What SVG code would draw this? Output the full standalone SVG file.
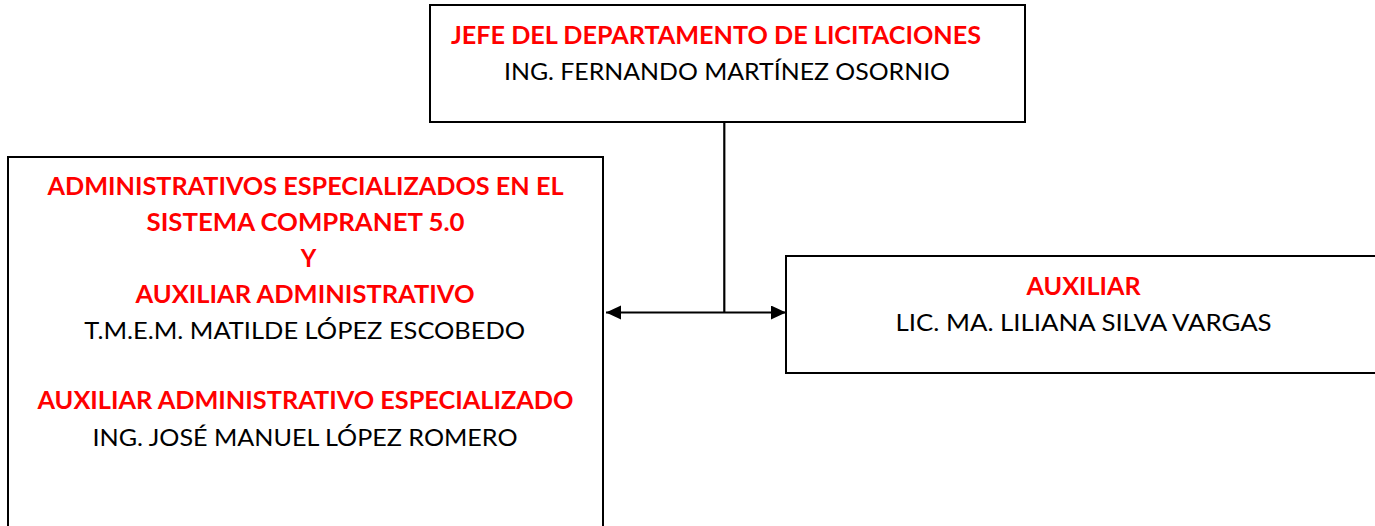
<svg xmlns="http://www.w3.org/2000/svg" width="1375" height="526" viewBox="0 0 1375 526">
<defs>
<style>
.box{fill:#fff;stroke:#000;stroke-width:2}
.t{font-family:Lato,"Open Sans","Liberation Sans",sans-serif;font-size:24px;text-anchor:middle}
.r{fill:#FF0000;font-weight:bold}
.k{fill:#000}
.ln{stroke:#000;stroke-width:2.2;fill:none}
</style>
<marker id="ah" markerUnits="userSpaceOnUse" markerWidth="16" markerHeight="15" refX="15" refY="7" orient="auto-start-reverse" viewBox="0 0 16 15">
<path d="M0,0 L15,7 L0,14 Z" fill="#000"/>
</marker>
</defs>
<rect width="1375" height="526" fill="#fff"/>
<g id="connectors">
<line class="ln" x1="724.3" y1="122" x2="724.3" y2="312.5"/>
<path class="ln" d="M606,312.5 H786" marker-start="url(#ah)" marker-end="url(#ah)"/>
</g>
<g id="jefe">
<rect class="box" x="430" y="5" width="595" height="117"/>
<text class="t r" x="716" y="44" textLength="530" lengthAdjust="spacingAndGlyphs">JEFE DEL DEPARTAMENTO DE LICITACIONES</text>
<text class="t k" x="727" y="80" textLength="446" lengthAdjust="spacingAndGlyphs">ING. FERNANDO MARTÍNEZ OSORNIO</text>
</g>
<g id="administrativos">
<rect class="box" x="8" y="157" width="595" height="390"/>
<text class="t r" x="305.5" y="195" textLength="516" lengthAdjust="spacingAndGlyphs">ADMINISTRATIVOS ESPECIALIZADOS EN EL</text>
<text class="t r" x="305.5" y="231" textLength="318" lengthAdjust="spacingAndGlyphs">SISTEMA COMPRANET 5.0</text>
<text class="t r" x="308.5" y="266.7">Y</text>
<text class="t r" x="305" y="302.7" textLength="339" lengthAdjust="spacingAndGlyphs">AUXILIAR ADMINISTRATIVO</text>
<text class="t k" x="304.7" y="339" textLength="441" lengthAdjust="spacingAndGlyphs">T.M.E.M. MATILDE LÓPEZ ESCOBEDO</text>
<text class="t r" x="305.5" y="409" textLength="536" lengthAdjust="spacingAndGlyphs">AUXILIAR ADMINISTRATIVO ESPECIALIZADO</text>
<text class="t k" x="305" y="446" textLength="425" lengthAdjust="spacingAndGlyphs">ING. JOSÉ MANUEL LÓPEZ ROMERO</text>
</g>
<g id="auxiliar">
<rect class="box" x="786" y="256" width="600" height="117"/>
<text class="t r" x="1083.6" y="295" textLength="114" lengthAdjust="spacingAndGlyphs">AUXILIAR</text>
<text class="t k" x="1083.6" y="331" textLength="376" lengthAdjust="spacingAndGlyphs">LIC. MA. LILIANA SILVA VARGAS</text>
</g>
</svg>
